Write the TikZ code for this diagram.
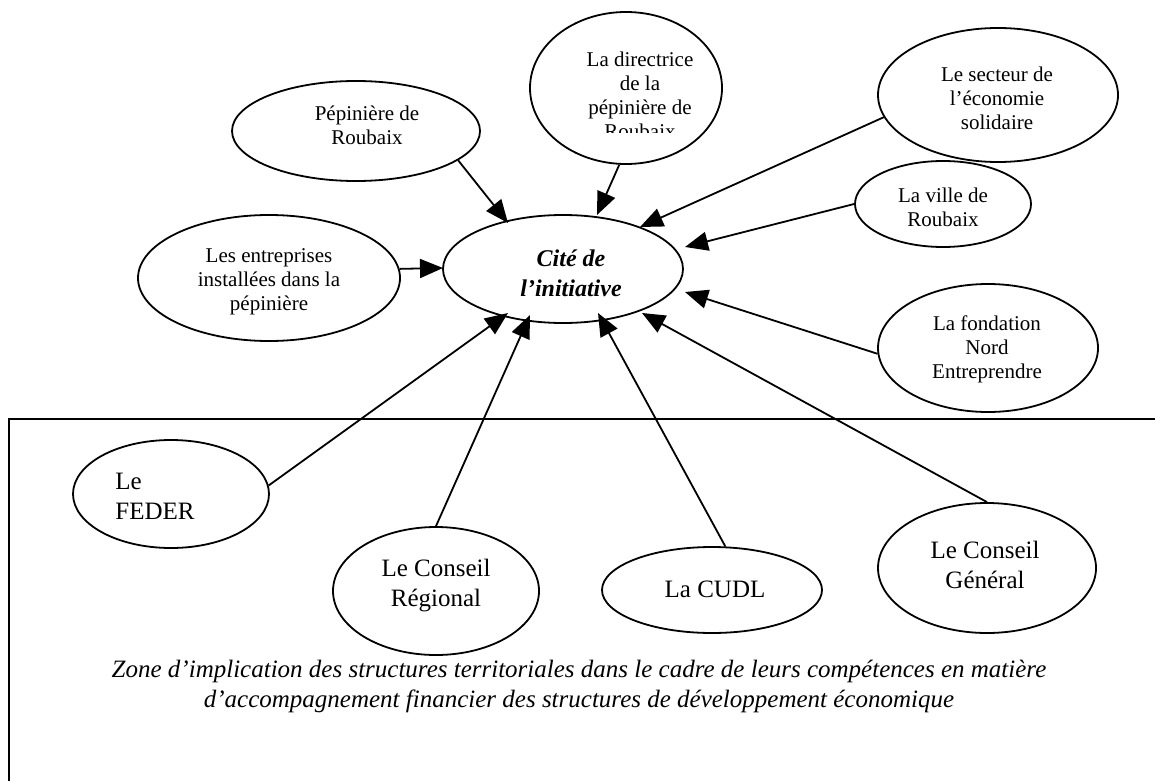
\documentclass[tikz,border=0pt]{standalone}
\usepackage{fontspec}
\setmainfont{Liberation Serif}
\usetikzlibrary{shapes.geometric,arrows.meta}
\begin{document}
\begin{tikzpicture}[x=0.5pt,y=-0.5pt,
  ell/.style={draw, ellipse, line width=0.9pt, inner sep=0pt},
  small/.style={font=\fontsize{10.5}{12}\selectfont, align=center, inner sep=0pt},
  big/.style={font=\fontsize{12.5}{15}\selectfont, align=center, inner sep=0pt},
  arr/.style={line width=0.9pt, -{Triangle[length=11.5pt,width=9.5pt]}}]
\useasboundingbox (0,0) rectangle (1155,781);

% zone frame
\draw[line width=1.2pt] (9,781) -- (9,419) -- (1155,419);

% ellipses
\node[ell, minimum width=124pt, minimum height=50pt] (pep) at (356,131) {};
\node[ell, minimum width=96pt, minimum height=76pt] (dir) at (626,88) {};
\node[ell, minimum width=120pt, minimum height=67pt] (sec) at (998,95) {};
\node[ell, minimum width=88pt, minimum height=43pt] (ville) at (943,204) {};
\node[ell, minimum width=110pt, minimum height=64pt] (fond) at (988,348) {};
\node[ell, minimum width=131pt, minimum height=63pt] (ent) at (269,278) {};
\node[ell, minimum width=120pt, minimum height=54pt] (cite) at (563,269) {};
\node[ell, minimum width=98pt, minimum height=54pt] (feder) at (171,494) {};
\node[ell, minimum width=103pt, minimum height=64pt] (reg) at (436,591) {};
\node[ell, minimum width=110pt, minimum height=43pt] (cudl) at (712,590) {};
\node[ell, minimum width=109pt, minimum height=65pt] (gen) at (987,568) {};

% texts
\node[small] (peptxt) at (367,125) {Pépinière de\\Roubaix};
\begin{scope}
  \clip (540,0) rectangle (720,132);
  \node[small] (dirtxt) at (640,95) {La directrice\\de la\\pépinière de\\Roubaix};
\end{scope}
\node[small] (sectxt) at (997,98) {Le secteur de\\l’économie\\solidaire};
\node[small] (villetxt) at (943,207) {La ville de\\Roubaix};
\node[small] (fondtxt) at (987,349) {La fondation\\Nord\\Entreprendre};
\node[small] (enttxt) at (269,282) {Les entreprises\\installées dans la\\pépinière};
\node[font=\bfseries\itshape\fontsize{12}{15}\selectfont, align=center, inner sep=0pt] (citetxt) at (571,273) {Cité de\\l’initiative};
\node[big, align=left, anchor=west] (fedtxt) at (115,496) {Le\\FEDER};
\node[big] (regtxt) at (436,586) {Le Conseil\\Régional};
\node[big] (cudltxt) at (715,589) {La CUDL};
\node[big] (gentxt) at (985,565) {Le Conseil\\Général};

\node[font=\itshape\fontsize{12.5}{15}\selectfont, align=center, inner sep=0pt] (zone) at (579,686)
  {Zone d’implication des structures territoriales dans le cadre de leurs compétences en matière\\
   d’accompagnement financier des structures de développement économique};

% arrow tips
\coordinate (t1) at (508,223);
\coordinate (t2) at (597,215);
\coordinate (t3) at (640,227);
\coordinate (t4) at (685,247);
\coordinate (t5) at (685,292);
\coordinate (t6) at (443,268);
\coordinate (t7) at (508,313);
\coordinate (t8) at (530,315);
\coordinate (t9) at (598,313);
\coordinate (t10) at (642,313);

% connectors
\draw[arr] (pep.-16) -- (t1);
\draw[arr] (dir.-95) -- (t2);
\draw[arr] (sec.191) -- (t3);
\draw[arr] (ville.180) -- (t4);
\draw[arr] (fond.183) -- (t5);
\draw[arr] (ent.4) -- (t6);
\draw[arr] (feder.5) -- (t7);
\draw[arr] (reg.90) -- (t8);
\draw[arr] (cudl.73) -- (t9);
\draw[arr] (gen.90) -- (t10);
\end{tikzpicture}
\end{document}
